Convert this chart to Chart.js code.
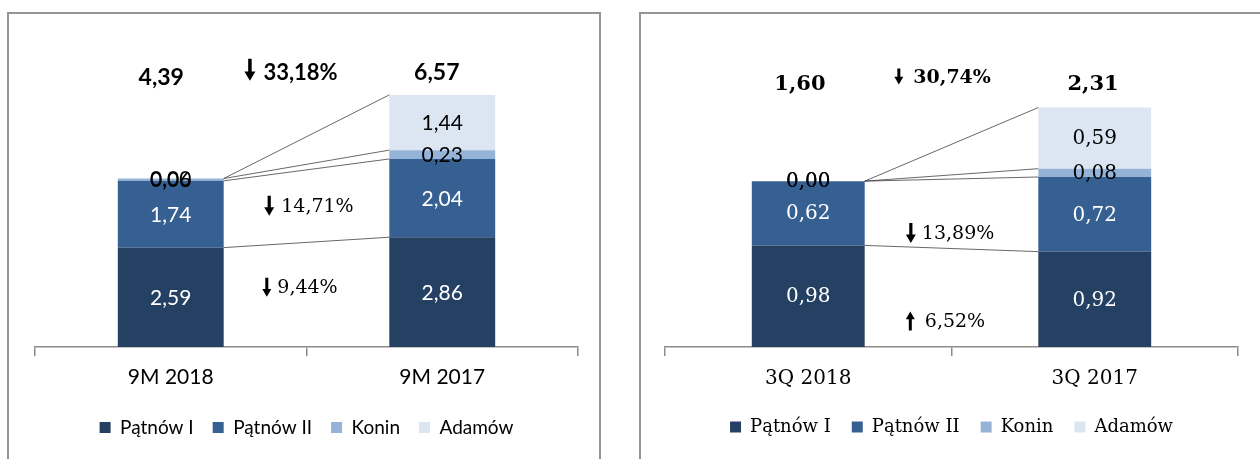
<!DOCTYPE html>
<html><head><meta charset="utf-8">
<script src="https://cdn.jsdelivr.net/npm/chart.js@4.4.1/dist/chart.umd.min.js"></script>
<style>
html,body{margin:0;padding:0;background:#fff;}
body{width:1260px;height:459px;position:relative;overflow:hidden;}
.frame{position:absolute;border:2px solid #949494;box-sizing:border-box;}
#f1{left:7px;top:12px;width:594px;height:480px;}
#f2{left:639px;top:12px;width:660px;height:480px;}
.wrap{position:absolute;top:0;height:459px;}
</style></head><body>
<div class="frame" id="f1"></div><div class="frame" id="f2"></div>
<div class="wrap" style="left:0;width:620px"><canvas id="c1" width="620" height="459"></canvas></div>
<div class="wrap" style="left:620px;width:640px"><canvas id="c2" width="640" height="459"></canvas></div>
<script>
// ---- data ----
const seriesNames = ['Pątnów I', 'Pątnów II', 'Konin', 'Adamów'];
const seriesColors = ['#244062', '#376092', '#95B3D7', '#DCE6F2'];
const valueColors = ['#ffffff', '#ffffff', '#000000', '#000000'];

const categories9M = ['9M 2018', '9M 2017'];
const patnow1_9M = [2.59, 2.86];
const patnow2_9M = [1.74, 2.04];
const konin_9M   = [0.06, 0.23];
const adamow_9M  = [0.00, 1.44];
const changes9M    = ['33,18%', '14,71%', '9,44%'];
const changeDirs9M = ['down', 'down', 'down'];

const categories3Q = ['3Q 2018', '3Q 2017'];
const patnow1_3Q = [0.98, 0.92];
const patnow2_3Q = [0.62, 0.72];
const konin_3Q   = [0.00, 0.08];
const adamow_3Q  = [0.00, 0.59];
const changes3Q    = ['30,74%', '13,89%', '6,52%'];
const changeDirs3Q = ['down', 'down', 'up'];

const fmt = v => v.toFixed(2).replace('.', ',');

function drawArrow(ctx, cx, cy, h, w, sw, dir) {
  const hh = w * 0.85;
  const top = cy - h / 2, bot = cy + h / 2;
  ctx.beginPath();
  if (dir === 'down') {
    ctx.moveTo(cx - sw / 2, top);
    ctx.lineTo(cx + sw / 2, top);
    ctx.lineTo(cx + sw / 2, bot - hh);
    ctx.lineTo(cx + w / 2, bot - hh);
    ctx.lineTo(cx, bot);
    ctx.lineTo(cx - w / 2, bot - hh);
    ctx.lineTo(cx - sw / 2, bot - hh);
  } else {
    ctx.moveTo(cx - sw / 2, bot);
    ctx.lineTo(cx + sw / 2, bot);
    ctx.lineTo(cx + sw / 2, top + hh);
    ctx.lineTo(cx + w / 2, top + hh);
    ctx.lineTo(cx, top);
    ctx.lineTo(cx - w / 2, top + hh);
    ctx.lineTo(cx - sw / 2, top + hh);
  }
  ctx.closePath();
  ctx.fill();
}

const decorPlugin = {
  id: 'decor',
  afterDatasetsDraw(chart, args, o) {
    const ctx = chart.ctx;
    const xs = chart.scales.x, ys = chart.scales.y;
    const metas = chart.data.datasets.map((d, i) => chart.getDatasetMeta(i));
    ctx.save();
    // connector lines between the two stacks
    ctx.strokeStyle = o.lineColor;
    ctx.lineWidth = 1;
    metas.forEach(m => {
      const a = m.data[0], b = m.data[1];
      ctx.beginPath();
      ctx.moveTo(a.x + a.width / 2, a.y);
      ctx.lineTo(b.x - b.width / 2, b.y);
      ctx.stroke();
    });
    // segment values
    ctx.textAlign = 'center';
    ctx.textBaseline = 'middle';
    ctx.font = o.valueFont;
    metas.forEach((m, di) => {
      ctx.fillStyle = valueColors[di];
      m.data.forEach((el, i) => {
        const v = chart.data.datasets[di].data[i];
        ctx.fillText(fmt(v), el.x, (el.y + el.base) / 2 + 1);
      });
    });
    // totals
    ctx.fillStyle = '#000';
    ctx.font = o.totalFont;
    chart.data.labels.forEach((lab, i) => {
      const tot = chart.data.datasets.reduce((s, d) => s + d.data[i], 0);
      const p = o.totalPos[i];
      ctx.fillText(fmt(tot), xs.getPixelForValue(i + p.dx), ys.getPixelForValue(p.y));
    });
    // change annotations
    o.changes.forEach((txt, k) => {
      const p = o.changePos[k];
      ctx.font = p.font;
      const tw = ctx.measureText(txt).width;
      const total = p.aw + p.gap + tw;
      const cx = xs.getPixelForValue(p.x);
      const cy = ys.getPixelForValue(p.y);
      const left = cx - total / 2;
      drawArrow(ctx, left + p.aw / 2, cy + (p.ady || 0), p.ah, p.aw, p.sw, o.dirs[k]);
      ctx.textAlign = 'left';
      ctx.fillText(txt, left + p.aw + p.gap, cy + 1);
    });
    ctx.restore();
  }
};

function makeChart(id, cats, s1, s2, s3, s4, cfg) {
  const sets = [s1, s2, s3, s4].map((d, i) => ({
    label: seriesNames[i],
    data: d,
    backgroundColor: seriesColors[i],
    borderWidth: 0,
    categoryPercentage: 1,
    barPercentage: cfg.barPct
  }));
  return new Chart(document.getElementById(id), {
    type: 'bar',
    data: { labels: cats, datasets: sets },
    plugins: [decorPlugin],
    options: {
      responsive: false,
      animation: false,
      events: [],
      layout: { padding: cfg.padding },
      scales: {
        x: {
          stacked: true,
          offset: true,
          grid: { offset: true, drawOnChartArea: false, drawTicks: true, tickLength: 9, color: '#8c8c8c', lineWidth: 1.5 },
          border: { display: true, color: '#8c8c8c', width: 1.5 },
          ticks: { color: '#000', font: cfg.catFont, padding: cfg.tickPad },
          afterFit: s => { s.height = cfg.xHeight; }
        },
        y: { stacked: true, display: false, min: 0, max: cfg.yMax }
      },
      plugins: {
        legend: {
          position: 'bottom',
          labels: { color: '#000', font: cfg.legendFont, boxWidth: 11, boxHeight: 11, padding: cfg.legendPad }
        },
        tooltip: { enabled: false },
        decor: cfg.decor
      }
    }
  });
}

makeChart('c1', categories9M, patnow1_9M, patnow2_9M, konin_9M, adamow_9M, {
  barPct: 0.39,
  yMax: 8,
  padding: { left: 35, right: 42, top: 40, bottom: 12 },
  catFont: { family: 'Lato', size: 21 },
  tickPad: 9,
  xHeight: 52,
  legendFont: { family: 'Lato', size: 19 },
  legendPad: 19,
  decor: {
    lineColor: 'rgba(40,40,40,0.7)',
    valueFont: '21px Lato',
    totalFont: 'bold 23px Lato',
    totalPos: [{ dx: -0.035, y: 7.01 }, { dx: -0.02, y: 7.15 }],
    changes: changes9M,
    dirs: changeDirs9M,
    changePos: [
      { x: 0.443, y: 7.17, font: 'bold 22px Lato', aw: 11, ah: 22, sw: 3.5, gap: 8, ady: -2 },
      { x: 0.509, y: 3.68, font: '19px "DejaVu Serif"', aw: 10, ah: 20, sw: 3.2, gap: 7 },
      { x: 0.476, y: 1.56, font: '19px "DejaVu Serif"', aw: 9, ah: 19, sw: 3, gap: 6 }
    ]
  }
});

makeChart('c2', categories3Q, patnow1_3Q, patnow2_3Q, konin_3Q, adamow_3Q, {
  barPct: 0.394,
  yMax: 3,
  padding: { left: 45, right: 22, top: 36, bottom: 13 },
  catFont: { family: 'DejaVu Serif', size: 20 },
  tickPad: 11,
  xHeight: 50,
  legendFont: { family: 'DejaVu Serif', size: 18 },
  legendPad: 21,
  decor: {
    lineColor: 'rgba(40,40,40,0.7)',
    valueFont: '20px "DejaVu Serif"',
    totalFont: 'bold 21px "DejaVu Serif"',
    totalPos: [{ dx: -0.029, y: 2.53 }, { dx: -0.006, y: 2.53 }],
    changes: changes3Q,
    dirs: changeDirs3Q,
    changePos: [
      { x: 0.469, y: 2.60, font: 'bold 19px "DejaVu Serif"', aw: 9, ah: 16, sw: 3, gap: 10, ady: -1 },
      { x: 0.495, y: 1.10, font: '19px "DejaVu Serif"', aw: 10, ah: 20, sw: 3.2, gap: 6 },
      { x: 0.479, y: 0.25, font: '19px "DejaVu Serif"', aw: 9, ah: 19, sw: 3, gap: 10 }
    ]
  }
});
</script>
</body></html>
